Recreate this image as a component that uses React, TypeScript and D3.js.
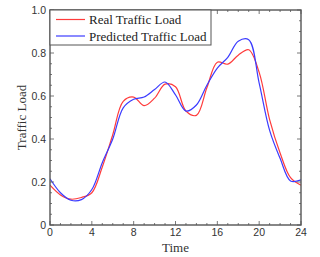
import React from 'react';
import * as d3 from 'd3';

// hours of the day
const hours = d3.range(0, 25);
const realLoad = [0.185, 0.14, 0.12, 0.128, 0.15, 0.27, 0.42, 0.575, 0.595, 0.555, 0.59, 0.655, 0.643, 0.53, 0.51, 0.638, 0.757, 0.748, 0.79, 0.815, 0.71, 0.49, 0.335, 0.22, 0.185];
const predictedLoad = [0.215, 0.15, 0.115, 0.118, 0.165, 0.29, 0.4, 0.545, 0.585, 0.595, 0.63, 0.665, 0.605, 0.53, 0.558, 0.65, 0.73, 0.78, 0.855, 0.862, 0.66, 0.44, 0.31, 0.205, 0.21];
const xTicks = [0, 4, 8, 12, 16, 20, 24];
const yTicks = [0, 0.2, 0.4, 0.6, 0.8, 1.0];
const seriesNames = ['Real Traffic Load', 'Predicted Traffic Load'];

export default function App() {
  const W = 320;
  const H = 257;
  const m = { left: 50, right: 19, top: 10, bottom: 32 };
  const x = d3.scaleLinear().domain([0, 24]).range([m.left, W - m.right]);
  const y = d3.scaleLinear().domain([0, 1]).range([H - m.bottom, m.top]);

  const line = d3.line<number>()
    .x((d, i) => x(hours[i]))
    .y(d => y(d))
    .curve(d3.curveCatmullRom.alpha(0.5));

  const x0 = x(0), x1 = x(24), y0 = y(0), y1 = y(1);
  const axisColor = '#555';
  const minorX = d3.range(0, 25, 1).filter(v => v % 4 !== 0);
  const minorY = d3.range(0, 1.0001, 0.05).filter(v => Math.abs(v * 5 - Math.round(v * 5)) > 1e-6);

  return (
    <svg width={W} height={H} style={{ position: 'absolute', left: 0, top: 0, background: '#fff' }}>
      <g clipPath="url(#plot)">
        <defs>
          <clipPath id="plot">
            <rect x={x0} y={y1} width={x1 - x0} height={y0 - y1} />
          </clipPath>
        </defs>
        <path d={line(realLoad) || ''} fill="none" stroke="#ff3b3b" strokeWidth={1.2} />
        <path d={line(predictedLoad) || ''} fill="none" stroke="#3b3bff" strokeWidth={1.2} />
      </g>

      {/* ticks, inward on all four sides */}
      <g stroke={axisColor} strokeWidth={0.8}>
        {xTicks.map(t => (
          <g key={'xt' + t}>
            <line x1={x(t)} x2={x(t)} y1={y0} y2={y0 - 4} />
            <line x1={x(t)} x2={x(t)} y1={y1} y2={y1 + 4} />
          </g>
        ))}
        {minorX.map(t => (
          <g key={'xm' + t}>
            <line x1={x(t)} x2={x(t)} y1={y0} y2={y0 - 2} />
            <line x1={x(t)} x2={x(t)} y1={y1} y2={y1 + 2} />
          </g>
        ))}
        {yTicks.map(t => (
          <g key={'yt' + t}>
            <line x1={x0} x2={x0 + 4} y1={y(t)} y2={y(t)} />
            <line x1={x1} x2={x1 - 4} y1={y(t)} y2={y(t)} />
          </g>
        ))}
        {minorY.map(t => (
          <g key={'ym' + t}>
            <line x1={x0} x2={x0 + 2} y1={y(t)} y2={y(t)} />
            <line x1={x1} x2={x1 - 2} y1={y(t)} y2={y(t)} />
          </g>
        ))}
      </g>
      <rect x={x0} y={y1} width={x1 - x0} height={y0 - y1} fill="none" stroke={axisColor} strokeWidth={1.4} />

      {/* tick labels */}
      <g fontFamily="Liberation Sans, Arial, sans-serif" fontSize={10.5} fill="#333">
        {xTicks.map(t => (
          <text key={'xl' + t} x={x(t)} y={y0 + 11} textAnchor="middle">{t}</text>
        ))}
        {yTicks.map(t => (
          <text key={'yl' + t} x={x0 - 4} y={y(t) + 4} textAnchor="end">{t === 0 ? '0' : t.toFixed(1)}</text>
        ))}
      </g>

      {/* axis titles */}
      <g fontFamily="Liberation Serif, Times New Roman, serif" fontSize={13} fill="#333">
        <text x={(x0 + x1) / 2} y={H - 5} textAnchor="middle">Time</text>
        <text transform={`translate(26, ${(y0 + y1) / 2}) rotate(-90)`} textAnchor="middle">Traffic Load</text>
      </g>

      {/* legend */}
      <g>
        <rect x={x0} y={y1} width={161} height={35} fill="#fff" stroke={axisColor} strokeWidth={1} />
        {seriesNames.map((name, i) => (
          <g key={name} transform={`translate(${x0}, ${y1 + 9.5 + i * 16.5})`}>
            <line x1={6} x2={35} y1={0} y2={0} stroke={i === 0 ? '#ff3b3b' : '#3b3bff'} strokeWidth={1.2} />
            <text x={39} y={4.5} fontFamily="Liberation Serif, Times New Roman, serif" fontSize={13} fill="#222">{name}</text>
          </g>
        ))}
      </g>
    </svg>
  );
}
